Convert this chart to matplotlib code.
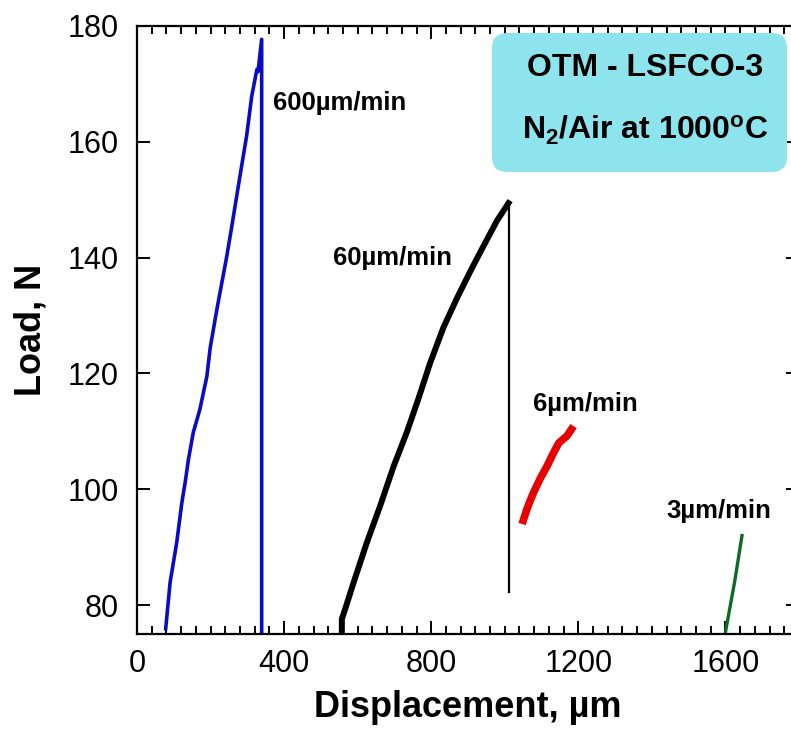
import matplotlib
matplotlib.use("Agg")
import matplotlib.pyplot as plt
from matplotlib.patches import FancyBboxPatch
from matplotlib.ticker import MultipleLocator

plt.rcParams['font.family'] = ['Liberation Sans', 'DejaVu Sans']
plt.rcParams['mathtext.fontset'] = 'custom'
plt.rcParams['mathtext.rm'] = 'Liberation Sans:bold'
plt.rcParams['mathtext.bf'] = 'Liberation Sans:bold'
plt.rcParams['mathtext.it'] = 'Liberation Sans:bold'

# ---- data ----
blue_x = [78, 90, 108, 122, 131, 140, 153, 171, 190, 199, 217, 244, 258, 280, 298, 312, 326, 329, 339, 339]
blue_y = [75.9, 83.9, 90.8, 97.7, 101.2, 105.2, 109.8, 113.8, 119.5, 124.4, 131, 140.2, 145.5, 154.1, 161.0, 167.9, 172.5, 172.1, 177.7, 74]

black_x = [557, 557, 566, 589, 625, 661, 698, 734, 765, 797, 833, 870, 906, 933, 979, 1010]
black_y = [75.0, 77.6, 79.3, 83.9, 90.8, 97.1, 104.0, 109.9, 115.6, 121.8, 127.9, 133.0, 137.6, 140.9, 146.4, 149.4]
black_drop_x = [1011, 1011]
black_drop_y = [149.4, 82.3]

red_x = [1047, 1062, 1078, 1096, 1115, 1131, 1147, 1158, 1169, 1187]
red_y = [94.0, 96.9, 99.4, 101.8, 104.0, 106.1, 108.0, 108.6, 109.2, 110.9]

green_x = [1600, 1612, 1625, 1635, 1645]
green_y = [75.3, 79.5, 84.0, 88.0, 92.0]

labels = ["600\u00b5m/min", "60\u00b5m/min", "6\u00b5m/min", "3\u00b5m/min"]
label_x = [370, 533, 1077, 1439]
label_y = [166.7, 140.0, 114.8, 96.2]

box_lines = ["OTM - LSFCO-3", r"N$_2$/Air at 1000$^{\rm o}$C"]

x_ticks = [0, 400, 800, 1200, 1600]
y_ticks = [80, 100, 120, 140, 160, 180]

# ---- figure ----
fig = plt.figure(figsize=(7.91, 7.42), dpi=100)
ax = fig.add_axes([137/791, 1 - 634/742, (799 - 137)/791, (634 - 26)/742])
ax.set_xlim(0, 1800)
ax.set_ylim(75, 180)

ax.plot(blue_x, blue_y, color='#0a0ac8', lw=2.6)
ax.plot(black_x, black_y, color='black', lw=4.3)
ax.plot(black_drop_x, black_drop_y, color='black', lw=1.6)
ax.plot(red_x, red_y, color='#e80000', lw=5.5, solid_capstyle='butt')
ax.plot(green_x, green_y, color='#0b6a25', lw=2.4)

for t, x, y in zip(labels, label_x, label_y):
    ax.text(x, y, t, fontsize=18.5, fontweight='bold', ha='left', va='center')

ax.set_xticks(x_ticks)
ax.set_yticks(y_ticks)
ax.xaxis.set_minor_locator(MultipleLocator(40))
ax.tick_params(which='both', direction='in', top=True, right=True, width=1.4)
ax.tick_params(which='major', length=9.5, labelsize=22)
ax.tick_params(which='minor', length=5.5)
ax.tick_params(axis='x', which='major', pad=11)
ax.tick_params(axis='y', which='major', pad=13)
for s in ax.spines.values():
    s.set_linewidth(1.6)

ax.set_xlabel("Displacement, \u00b5m", fontsize=26, fontweight='bold', labelpad=8)
ax.set_ylabel("Load, N", fontsize=26, fontweight='bold', labelpad=14)

# annotation box (figure pixel coords)
W, H = 791, 742
bx0, bx1, by0, by1 = 492, 787, 33, 172
box = FancyBboxPatch((bx0/W, 1 - by1/H), (bx1 - bx0)/W, (by1 - by0)/H,
                     boxstyle="round,pad=0,rounding_size=0.02",
                     transform=fig.transFigure, facecolor='#8de4ec',
                     edgecolor='none', zorder=5)
fig.patches.append(box)
fig.text(645/W, 1 - 68/H, box_lines[0], fontsize=23, fontweight='bold',
         ha='center', va='center', zorder=6)
fig.text(645/W, 1 - 130/H, box_lines[1], fontsize=23, fontweight='bold',
         ha='center', va='center', zorder=6)

fig.savefig("out.png", dpi=100)
